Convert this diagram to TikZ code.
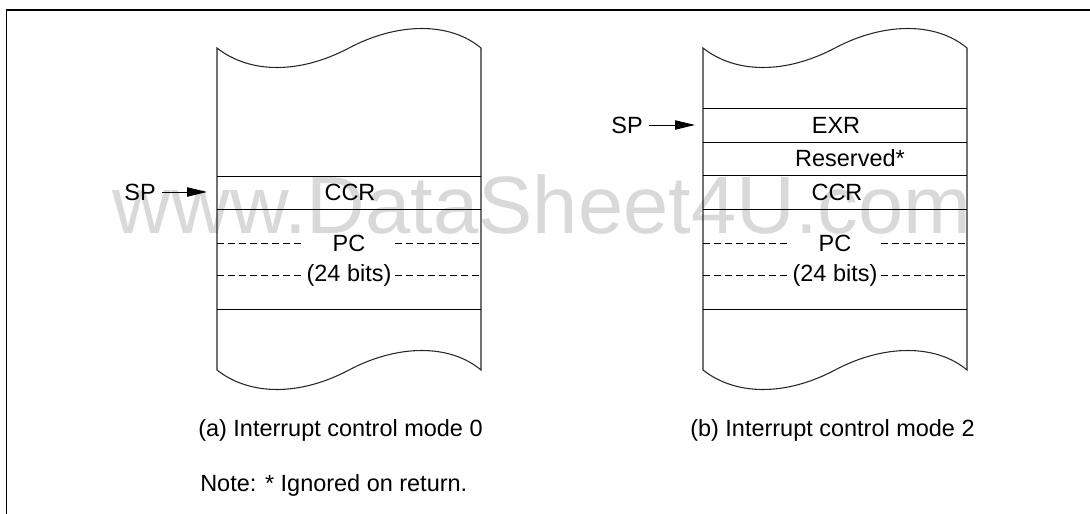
\documentclass[tikz,border=0pt]{standalone}
\usepackage{fontspec}
\setmainfont{Liberation Sans}
\usetikzlibrary{positioning}
\usetikzlibrary{arrows.meta}

\begin{document}
\begin{tikzpicture}[
    x=0.75pt, y=-0.75pt,
    lbl/.style={font=\fontsize{17.6}{20}\selectfont, inner sep=0pt},
    field/.style={lbl, minimum width=69pt},
    sptag/.style={lbl, outer sep=5pt},
    wall/.style={line width=0.8pt, draw=black!85},
    rule/.style={line width=0.75pt},
    dotrule/.style={line width=0.75pt, dash pattern=on 5.25pt off 3pt},
    >={Triangle[length=15pt, width=7pt]}
]
    \useasboundingbox (0,0) rectangle (1090,514);

    \node[font=\fontsize{61}{61}\selectfont, text=black!15, anchor=base] (mark) at (542,233) {www.DataSheet4U.com};

    \draw[line width=0.9pt] (6.5,514) -- (6.5,10) -- (1090,10);

    \foreach \dx/\n in {0/a, 486/b} {
        \begin{scope}[shift={(\dx,0)}]
            \draw[wall] (217,48) .. controls (250,74) and (300,74) .. (349,48)
                .. controls (398,22) and (450,22) .. (481,48) -- (481,370)
                .. controls (450,344) and (398,344) .. (349,370)
                .. controls (300,396) and (250,396) .. (217,370) -- cycle;
            \draw[rule] (217,209) -- (481,209);
            \draw[rule] (217,309) -- (481,309);
            \node[field] (\n-pc) at (349,243) {PC};
            \node[field] (\n-bits) at (349,275) {(24 bits)};
            \coordinate (\n-pcl) at (217,243);
            \coordinate (\n-pcr) at (481,243);
            \coordinate (\n-bitsl) at (217,275);
            \coordinate (\n-bitsr) at (481,275);
            \draw[dotrule] (\n-pcl) -- (\n-pc.west);
            \draw[dotrule] (\n-pc.east) -- (\n-pcr);
            \draw[dotrule] (\n-bitsl) -- (\n-bits.west);
            \draw[dotrule] (\n-bits.east) -- (\n-bitsr);
        \end{scope}
    }

    \draw[rule] (217,176) -- (481,176);
    \node[lbl] (a-ccr) at (350,192.5) {CCR};
    \node[sptag] (a-sp) at (140,192) {SP};
    \coordinate (a-spend) at (207,192);
    \draw[->, line width=0.75pt] (a-sp) -- (a-spend);

    \draw[rule] (703,108) -- (967,108);
    \draw[rule] (703,142) -- (967,142);
    \draw[rule] (703,175) -- (967,175);
    \node[lbl] (b-exr) at (836,125) {EXR};
    \node[lbl] (b-res) at (850,158.5) {Reserved*};
    \node[lbl] (b-ccr) at (837,192) {CCR};
    \node[sptag] (b-sp) at (627,125) {SP};
    \coordinate (b-spend) at (695,125);
    \draw[->, line width=0.75pt] (b-sp) -- (b-spend);

    \node[lbl, anchor=west] (cap-a) at (198,430) {(a) Interrupt control mode 0};
    \node[lbl, anchor=west] (cap-b) at (690,430) {(b) Interrupt control mode 2};
    \node[lbl, anchor=west] (note) at (200,485) {Note: * Ignored on return.};
\end{tikzpicture}
\end{document}
